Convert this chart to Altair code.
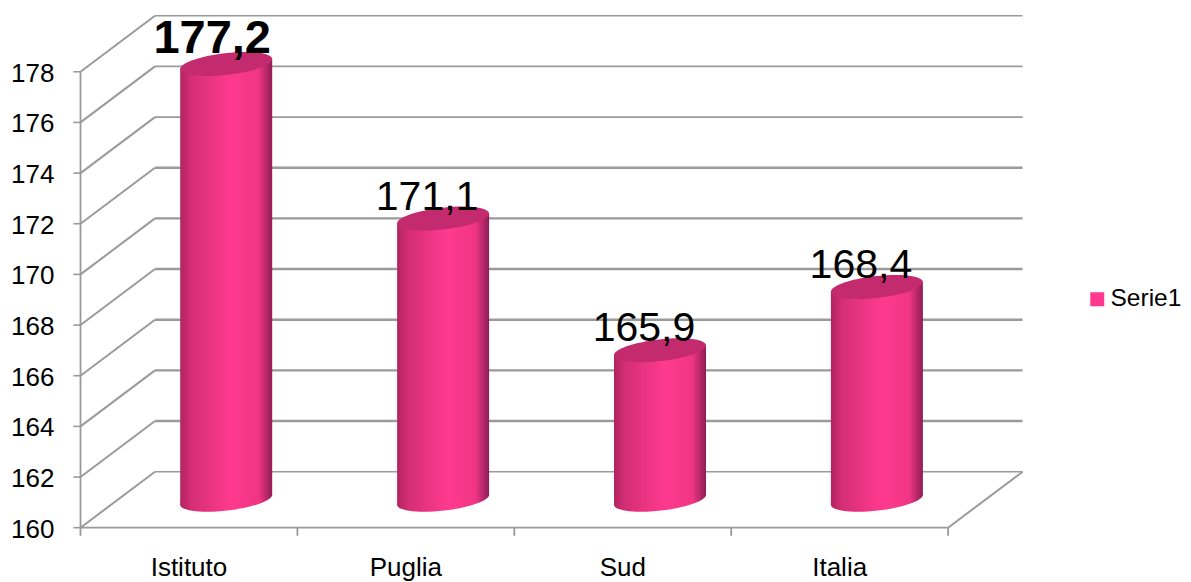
import altair as alt
import pandas as pd

categories = ["Istituto", "Puglia", "Sud", "Italia"]
values = [177.2, 171.1, 165.9, 168.4]
labels = ["177,2", "171,1", "165,9", "168,4"]
y_ticks = list(range(160, 180, 2))
series = ["Serie1"]

FONT = "Liberation Sans"
W, H = 1175, 574
PX_CAT, PX_VAL = 216.9, 25.33
X0, Y0 = 80.5, 527.7
DX, DY = 74.5 / PX_CAT, 56 / PX_VAL      # depth of the false 3D box
BAR_W = 92 / PX_CAT
TILT = 5 / PX_VAL                        # rise of the ellipse's right tip

x_scale = alt.Scale(domain=[(8 - X0) / PX_CAT, (8 + W - X0) / PX_CAT], nice=False, zero=False)
y_scale = alt.Scale(domain=[160 - (8 + H - Y0) / PX_VAL, 160 + (Y0 - 8) / PX_VAL], nice=False, zero=False)

GRAY = "#9a9a9a"
segments = []
for v in y_ticks:
    w = 1.6 if v >= 174 or v == 160 else 2.4
    segments.append(dict(x=DX, x2=4 + DX, y=v + DY, y2=v + DY, w=w))   # back wall
    segments.append(dict(x=0, x2=DX, y=v, y2=v + DY, w=2))             # side wall
    segments.append(dict(x=-0.033, x2=0, y=v, y2=v, w=1.6))            # y tick
segments.append(dict(x=0, x2=0, y=160, y2=178, w=1.8))
segments.append(dict(x=0, x2=4, y=160, y2=160, w=1.8))
segments.append(dict(x=4, x2=4 + DX, y=160, y2=160 + DY, w=2))
for i in range(5):
    segments.append(dict(x=i, x2=i, y=160, y2=160 - 0.32, w=1.8))
seg = pd.DataFrame(segments)

bars = pd.DataFrame({"cat": categories, "v": values, "label": labels})
bars["c"] = [i + 0.5 + DX / 2 for i in range(4)]
bars["base"] = 160 + DY / 2
bars["top"] = bars["v"] + DY / 2

edges = []
for _, r in bars.iterrows():
    edges.append(dict(cat=r["cat"], x=r["c"] - BAR_W / 2, lo=r["base"] - TILT, hi=r["top"] - TILT))
    edges.append(dict(cat=r["cat"], x=r["c"] + BAR_W / 2, lo=r["base"] + TILT, hi=r["top"] + TILT))
edges = pd.DataFrame(edges)

X = lambda f: alt.X(f, type="quantitative", scale=x_scale, axis=None)
Y = lambda f: alt.Y(f, type="quantitative", scale=y_scale, axis=None)

lines = alt.Chart(seg).mark_rule(color=GRAY).encode(
    x=X("x"), x2="x2", y=Y("y"), y2="y2",
    strokeWidth=alt.StrokeWidth("w:Q", scale=None),
)

grad = alt.Gradient(
    gradient="linear", x1=0, x2=1, y1=0, y2=0,
    stops=[
        alt.GradientStop(offset=0, color="#b2245f"),
        alt.GradientStop(offset=0.12, color="#d42e76"),
        alt.GradientStop(offset=0.55, color="#ff3a8e"),
        alt.GradientStop(offset=0.85, color="#f03584"),
        alt.GradientStop(offset=1, color="#8f1d55"),
    ],
)
ELLIPSE = "M -1 0 A 1 0.235 0 1 1 1 0 A 1 0.235 0 1 1 -1 0 Z"
ESIZE = 92.6 ** 2

bottom = alt.Chart(bars).mark_point(
    shape=ELLIPSE, size=ESIZE, filled=True, fill=grad, opacity=1, angle=353.5
).encode(x=X("c"), y=Y("base"))

body = alt.Chart(edges).mark_area(fill=grad, opacity=1, interpolate="linear").encode(
    x=X("x"), y=Y("lo"), y2="hi", detail="cat:N"
)

top = alt.Chart(bars).mark_point(
    shape=ELLIPSE, size=ESIZE, filled=True, fill="#c42b6e", opacity=1, angle=353.5
).encode(x=X("c"), y=Y("top"))

first = bars.iloc[[0]]
rest = bars.iloc[1:]
lab_first = alt.Chart(first).mark_text(
    font=FONT, fontSize=47, fontWeight="bold", color="black", baseline="alphabetic",
    dx=-14, dy=-11,
).encode(x=X("c"), y=Y("top"), text="label:N")
lab_rest = alt.Chart(rest).mark_text(
    font=FONT, fontSize=41, color="black", baseline="alphabetic",
    dx=-16, dy=-9,
).encode(x=X("c"), y=Y("top"), text="label:N")

ytext = alt.Chart(pd.DataFrame({"v": y_ticks})).mark_text(
    font=FONT, fontSize=26, color="black", align="right", baseline="middle", dx=-26, dy=2,
).encode(x=alt.datum(0, type="quantitative", scale=x_scale, axis=None), y=Y("v"), text="v:Q")

xtext_df = pd.DataFrame({"cat": categories, "p": [i + 0.5 for i in range(4)], "b": [160] * 4})
xtext = alt.Chart(xtext_df).mark_text(
    font=FONT, fontSize=26, color="black", baseline="alphabetic", dy=48.5,
).encode(x=X("p"), y=Y("b"), text="cat:N")

legend_df = pd.DataFrame({"s": series, "x": [0], "y": [160]})
legend = alt.Chart(legend_df).mark_square(size=0).encode(
    x=X("x"), y=Y("y"),
    color=alt.Color(
        "s:N", title=None,
        scale=alt.Scale(domain=series, range=["#ff3a8e"]),
        legend=alt.Legend(
            orient="none", legendX=1077, legendY=279, symbolType="square", symbolSize=196,
            symbolOpacity=1, labelFont=FONT, labelFontSize=24.5, labelColor="black", labelOffset=1,
            labelLimit=200,
        ),
    ),
)

chart = alt.layer(lines, bottom, body, top, lab_first, lab_rest, ytext, xtext, legend).properties(
    width=W, height=H,
    padding=0,
    autosize=alt.AutoSizeParams(type="none"),
    background="white",
).configure_view(stroke=None)

chart.save("out.html", embed_options={"renderer": "svg", "actions": False})
